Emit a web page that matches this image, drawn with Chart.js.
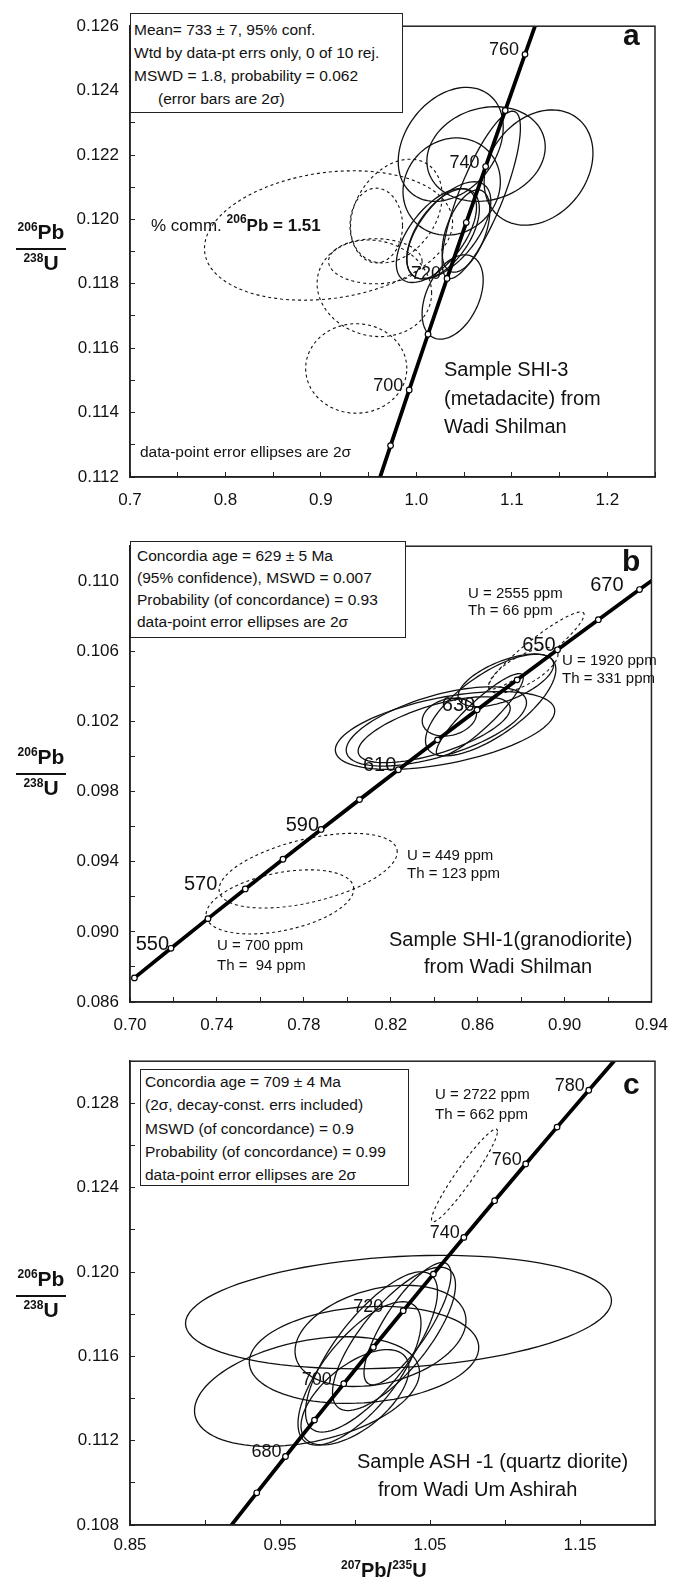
<!DOCTYPE html>
<html lang="en">
<head>
<meta charset="UTF-8">
<title>U-Pb concordia diagrams</title>
<script src="https://cdn.jsdelivr.net/npm/chart.js"></script>
<style>
  body { margin: 0; background: #fff; font-family: "Liberation Sans", Arial, sans-serif; color: #111; }
  #page { position: relative; width: 686px; height: 1579px; overflow: hidden; }
  canvas { position: absolute; left: 0; }
  .t { position: absolute; white-space: nowrap; line-height: 1; z-index: 2; }
  .box { position: absolute; z-index: 2; border: 1.5px solid #222; background: #fff; box-sizing: border-box;
         font-size: 15.5px; white-space: nowrap; }
  .tag { font-weight: bold; font-size: 30px; }
  .small { font-size: 15px; }
  .sample { font-size: 20px; }
  .ytitle { position: absolute; left: 12px; width: 58px; text-align: center; font-weight: bold; font-size: 21px; z-index: 2; }
  .ytitle .n { line-height: 20px; }
  .ytitle .bar { width: 50px; height: 2px; background: #111; margin: 3px auto; }
  sup { font-size: 12px; vertical-align: baseline; position: relative; top: -8px; }
</style>
</head>
<body>
<div id="page">
  <canvas id="chartA" width="686" height="520" style="top:0px"></canvas>
  <canvas id="chartB" width="686" height="515" style="top:520px"></canvas>
  <canvas id="chartC" width="686" height="544" style="top:1035px"></canvas>

  <!-- panel a -->
  <div class="box" style="left:130px;top:13px;width:273px;height:100px;padding:4px 0 0 3px;line-height:23px">
    Mean= 733 &plusmn; 7, 95% conf.<br>
    Wtd by data-pt errs only, 0 of 10 rej.<br>
    MSWD = 1.8, probability = 0.062<br>
    <span style="padding-left:24px">(error bars are 2&sigma;)</span>
  </div>
  <div class="t tag" style="left:623px;top:20px">a</div>
  <div class="t" style="left:151px;top:217px;font-size:17px">% comm. <b><sup>206</sup>Pb = 1.51</b></div>
  <div class="t sample" style="left:444px;top:355px;line-height:28.5px">Sample SHI-3<br>(metadacite) from<br>Wadi Shilman</div>
  <div class="t" style="left:140px;top:444px;font-size:15.5px">data-point error ellipses are 2&sigma;</div>
  <div class="ytitle" style="top:222px"><div class="n"><sup>206</sup>Pb</div><div class="bar"></div><div class="n"><sup>238</sup>U</div></div>

  <!-- panel b -->
  <div class="box" style="left:130px;top:541px;width:276px;height:97px;padding:3px 0 0 6px;line-height:22px">
    Concordia age = 629 &plusmn; 5 Ma<br>
    (95% confidence), MSWD = 0.007<br>
    Probability (of concordance) = 0.93<br>
    data-point error ellipses are 2&sigma;
  </div>
  <div class="t tag" style="left:622px;top:546px">b</div>
  <div class="t small" style="left:468px;top:584px;line-height:17px">U = 2555 ppm<br>Th = 66 ppm</div>
  <div class="t small" style="left:562px;top:651px;line-height:18px">U = 1920 ppm<br>Th = 331 ppm</div>
  <div class="t small" style="left:407px;top:846px;line-height:18px">U = 449 ppm<br>Th = 123 ppm</div>
  <div class="t small" style="left:217px;top:935px;line-height:20px">U = 700 ppm<br>Th =&nbsp; 94 ppm</div>
  <div class="t sample" style="left:389px;top:929px">Sample SHI-1(granodiorite)</div>
  <div class="t sample" style="left:424px;top:956px">from Wadi Shilman</div>
  <div class="ytitle" style="top:747px"><div class="n"><sup>206</sup>Pb</div><div class="bar"></div><div class="n"><sup>238</sup>U</div></div>

  <!-- panel c -->
  <div class="box" style="left:140px;top:1069px;width:269px;height:117px;padding:0 0 0 4px;line-height:23.3px">
    Concordia age = 709 &plusmn; 4 Ma<br>
    (2&sigma;, decay-const. errs included)<br>
    MSWD (of concordance) = 0.9<br>
    Probability (of concordance) = 0.99<br>
    data-point error ellipses are 2&sigma;
  </div>
  <div class="t tag" style="left:623px;top:1069px">c</div>
  <div class="t small" style="left:435px;top:1084px;line-height:20px">U = 2722 ppm<br>Th = 662 ppm</div>
  <div class="t sample" style="left:357px;top:1451px">Sample ASH -1 (quartz diorite)</div>
  <div class="t sample" style="left:378px;top:1479px">from Wadi Um Ashirah</div>
  <div class="ytitle" style="top:1269px"><div class="n"><sup>206</sup>Pb</div><div class="bar"></div><div class="n"><sup>238</sup>U</div></div>
  <div class="t" style="left:341px;top:1560px;font-size:20px;font-weight:bold"><sup>207</sup>Pb/<sup>235</sup>U</div>
</div>

<script>
  // concordia curve, read at the 10 Ma marks
  const concAge = [540, 550, 560, 570, 580, 590, 600, 610, 620, 630, 640, 650, 660,
                   670, 680, 690, 700, 710, 720, 730, 740, 750, 760, 770, 780, 790];
  const concX = [0.70203, 0.71887, 0.73588, 0.75306, 0.77041, 0.78794, 0.80563, 0.82350, 0.84155,
                 0.85977, 0.87818, 0.89677, 0.91554, 0.93450, 0.95365, 0.97298, 0.99251, 1.01223,
                 1.03214, 1.05226, 1.07257, 1.09308, 1.11380, 1.13472, 1.15585, 1.17718];
  const concY = [0.087376, 0.089064, 0.090755, 0.092448, 0.094144, 0.095843, 0.097544, 0.099248,
                 0.100955, 0.102664, 0.104376, 0.106090, 0.107807, 0.109527, 0.111250, 0.112975,
                 0.114703, 0.116433, 0.118166, 0.119902, 0.121641, 0.123382, 0.125126, 0.126873,
                 0.128622, 0.130375];

  // ellipse rows: [207/235 centre, 206/238 centre, x half-width, y half-height, rho]

  // panel a - SHI-3
  const aXTicks = [0.70, 0.75, 0.80, 0.85, 0.90, 0.95, 1.00, 1.05, 1.10, 1.15, 1.20, 1.25];
  const aXLabels = ['0.7', '', '0.8', '', '0.9', '', '1.0', '', '1.1', '', '1.2', ''];
  const aYTicks = [0.112, 0.113, 0.114, 0.115, 0.116, 0.117, 0.118, 0.119, 0.120, 0.121, 0.122, 0.123, 0.124, 0.125, 0.126];
  const aYLabels = ['0.112', '', '0.114', '', '0.116', '', '0.118', '', '0.120', '', '0.122', '', '0.124', '', '0.126'];
  const aAgeLabels = [700, 720, 740, 760];
  const aEllipses = [
    [1.036, 0.12233, 0.055, 0.00177, 0.3],
    [1.073, 0.12203, 0.062, 0.00147, 0.15],
    [1.128, 0.12161, 0.057, 0.00179, 0.25],
    [1.037, 0.12102, 0.051, 0.00151, 0.1],
    [1.068, 0.12076, 0.041, 0.00260, 0.8],
    [1.021, 0.11950, 0.042, 0.00146, 0.6],
    [1.034, 0.11966, 0.044, 0.00151, 0.6],
    [1.028, 0.11955, 0.038, 0.00140, 0.55],
    [1.052, 0.11964, 0.025, 0.00128, 0.5],
    [1.038, 0.11759, 0.032, 0.00131, 0.4]
  ];
  const aRejected = [
    [0.908, 0.11950, 0.130, 0.00201, 0.2],
    [0.979, 0.12026, 0.048, 0.00161, 0.3],
    [0.958, 0.11981, 0.0275, 0.00116, 0.0],
    [0.957, 0.11870, 0.049, 0.00070, 0.0],
    [0.956, 0.11786, 0.060, 0.00150, -0.1],
    [0.937, 0.11537, 0.053, 0.00139, 0.0]
  ];

  // panel b - SHI-1
  const bXTicks = [0.70, 0.72, 0.74, 0.76, 0.78, 0.80, 0.82, 0.84, 0.86, 0.88, 0.90, 0.92, 0.94];
  const bXLabels = ['0.70', '', '0.74', '', '0.78', '', '0.82', '', '0.86', '', '0.90', '', '0.94'];
  const bYTicks = [0.086, 0.088, 0.090, 0.092, 0.094, 0.096, 0.098, 0.100, 0.102, 0.104, 0.106, 0.108, 0.110, 0.112];
  const bYLabels = ['0.086', '', '0.090', '', '0.094', '', '0.098', '', '0.102', '', '0.106', '', '0.110', ''];
  const bAgeLabels = [550, 570, 590, 610, 630, 650, 670];
  const bEllipses = [
    [0.845, 0.10149, 0.0505, 0.00222, 0.5],
    [0.841, 0.10172, 0.0415, 0.00226, 0.6],
    [0.840, 0.10153, 0.035, 0.00188, 0.65],
    [0.866, 0.10294, 0.030, 0.00290, 0.7],
    [0.847, 0.10225, 0.0125, 0.00108, 0.2],
    [0.861, 0.10238, 0.020, 0.00235, 0.9],
    [0.873, 0.10435, 0.022, 0.00150, 0.6]
  ];
  const bRejected = [
    [0.887, 0.10605, 0.022, 0.00220, 0.93],
    [0.881, 0.10492, 0.016, 0.00130, 0.7],
    [0.782, 0.09349, 0.041, 0.00213, 0.5],
    [0.769, 0.09171, 0.034, 0.00183, 0.4]
  ];

  // panel c - ASH-1
  const cXTicks = [0.85, 0.90, 0.95, 1.00, 1.05, 1.10, 1.15, 1.20];
  const cXLabels = ['0.85', '', '0.95', '', '1.05', '', '1.15', ''];
  const cYTicks = [0.108, 0.110, 0.112, 0.114, 0.116, 0.118, 0.120, 0.122, 0.124, 0.126, 0.128, 0.130];
  const cYLabels = ['0.108', '', '0.112', '', '0.116', '', '0.120', '', '0.124', '', '0.128', ''];
  const cAgeLabels = [680, 700, 720, 740, 760, 780];
  const cEllipses = [
    [1.029, 0.11810, 0.142, 0.00269, 0.2],
    [0.968, 0.11433, 0.075, 0.00260, 0.35],
    [1.006, 0.11607, 0.0765, 0.00230, 0.15],
    [1.017, 0.11697, 0.057, 0.00240, 0.3],
    [1.003, 0.11519, 0.041, 0.00340, 0.7],
    [1.011, 0.11621, 0.044, 0.00380, 0.75],
    [1.026, 0.11683, 0.041, 0.00340, 0.75],
    [1.035, 0.11755, 0.029, 0.00290, 0.8],
    [1.000, 0.11406, 0.036, 0.00226, 0.6]
  ];
  const cRejected = [
    [1.073, 0.12458, 0.022, 0.00220, 0.95]
  ];

  const FONT = '"Liberation Sans", Arial, sans-serif';

  function traceEllipse(chart, e) {
    const xs = chart.scales.x, ys = chart.scales.y, c = chart.ctx;
    const k = Math.sqrt(1 - e[4] * e[4]);
    c.beginPath();
    for (let i = 0; i <= 96; i++) {
      const t = i / 96 * 2 * Math.PI;
      const px = xs.getPixelForValue(e[0] + e[2] * Math.cos(t));
      const py = ys.getPixelForValue(e[1] + e[3] * (e[4] * Math.cos(t) + k * Math.sin(t)));
      if (i === 0) c.moveTo(px, py); else c.lineTo(px, py);
    }
    c.closePath();
    c.stroke();
  }

  function makePanel(id, p) {
    const overlay = {
      id: 'overlay' + id,
      beforeDatasetsDraw(chart) {
        const c = chart.ctx, a = chart.chartArea;
        c.save();
        c.beginPath();
        c.rect(a.left, a.top, a.right - a.left, a.bottom - a.top);
        c.clip();
        c.strokeStyle = '#111';
        c.lineWidth = 1.1;
        c.setLineDash([3, 3]);
        p.rejected.forEach(e => traceEllipse(chart, e));
        c.setLineDash([]);
        c.lineWidth = 1.3;
        p.ellipses.forEach(e => traceEllipse(chart, e));
        c.restore();
      },
      afterDatasetsDraw(chart) {
        const c = chart.ctx;
        c.save();
        c.font = p.ageFont + 'px ' + FONT;
        c.fillStyle = '#111';
        c.textAlign = 'right';
        c.textBaseline = 'middle';
        p.ages.forEach(age => {
          const i = concAge.indexOf(age);
          const px = chart.scales.x.getPixelForValue(concX[i]);
          const py = chart.scales.y.getPixelForValue(concY[i]);
          c.fillText(String(age), px - (p.shift[age] || p.gap), py - 4);
        });
        c.restore();
      },
      afterDraw(chart) {
        const c = chart.ctx, a = chart.chartArea;
        c.save();
        c.strokeStyle = '#222';
        c.lineWidth = 1.5;
        c.strokeRect(a.left, a.top, a.right - a.left, a.bottom - a.top);
        c.restore();
      }
    };

    return new Chart(document.getElementById(id), {
      type: 'scatter',
      data: {
        datasets: [{
          data: concAge.map((age, i) => ({ x: concX[i], y: concY[i] })),
          showLine: true,
          borderColor: '#000',
          borderWidth: 3.8,
          pointRadius: 2.8,
          pointHoverRadius: 2.8,
          pointBackgroundColor: '#fff',
          pointBorderColor: '#000',
          pointBorderWidth: 1.2
        }]
      },
      options: {
        responsive: false,
        animation: false,
        events: [],
        layout: { padding: { top: p.top, right: 31, left: 0, bottom: 0 } },
        plugins: { legend: { display: false }, tooltip: { enabled: false } },
        scales: {
          x: {
            type: 'linear', min: p.xTicks[0], max: p.xTicks[p.xTicks.length - 1],
            afterBuildTicks: s => { s.ticks = p.xTicks.map(v => ({ value: v })); },
            afterFit: s => { s.height = p.xAxisH; },
            ticks: { autoSkip: false, maxRotation: 0, padding: p.xPad, color: '#111',
                     font: { family: FONT, size: 17 }, callback: (v, i) => p.xLabels[i] },
            grid: { drawOnChartArea: false, tickLength: -5, color: '#222', lineWidth: 1 },
            border: { color: '#222', width: 1.5 }
          },
          y: {
            type: 'linear', min: p.yTicks[0], max: p.yTicks[p.yTicks.length - 1],
            afterBuildTicks: s => { s.ticks = p.yTicks.map(v => ({ value: v })); },
            afterFit: s => { s.width = 130; },
            ticks: { autoSkip: false, padding: 16, color: '#111',
                     font: { family: FONT, size: 17 }, callback: (v, i) => p.yLabels[i] },
            grid: { drawOnChartArea: false, tickLength: -5, color: '#222', lineWidth: 1 },
            border: { color: '#222', width: 1.5 }
          }
        }
      },
      plugins: [overlay]
    });
  }

  makePanel('chartA', {
    top: 13, xAxisH: 43, xPad: 18,
    xTicks: aXTicks, xLabels: aXLabels, yTicks: aYTicks, yLabels: aYLabels,
    ellipses: aEllipses, rejected: aRejected,
    ages: aAgeLabels, ageFont: 18, gap: 6, shift: {}
  });
  makePanel('chartB', {
    top: 20, xAxisH: 33, xPad: 18,
    xTicks: bXTicks, xLabels: bXLabels, yTicks: bYTicks, yLabels: bYLabels,
    ellipses: bEllipses, rejected: bRejected,
    ages: bAgeLabels, ageFont: 20, gap: 2, shift: { 570: 28, 670: 16 }
  });
  makePanel('chartC', {
    top: 26, xAxisH: 54, xPad: 15,
    xTicks: cXTicks, xLabels: cXLabels, yTicks: cYTicks, yLabels: cYLabels,
    ellipses: cEllipses, rejected: cRejected,
    ages: cAgeLabels, ageFont: 18, gap: 4, shift: { 700: 12, 720: 20 }
  });
</script>
</body>
</html>
